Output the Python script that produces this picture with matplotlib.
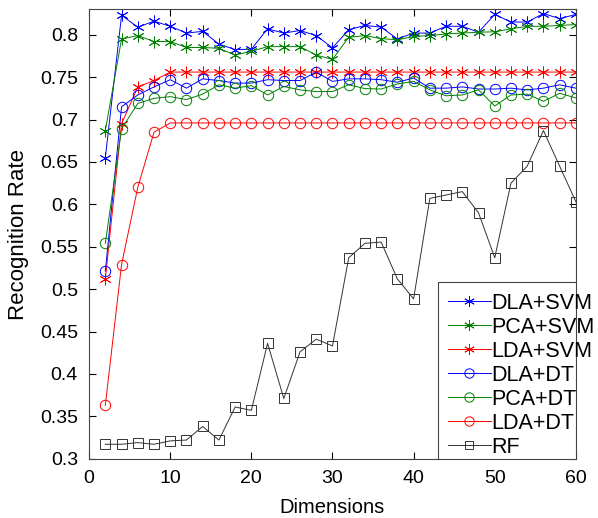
import numpy as np
import matplotlib
matplotlib.use("Agg")
import matplotlib.pyplot as plt
from matplotlib.patches import Rectangle

plt.rcParams['font.family'] = ['Liberation Sans', 'DejaVu Sans']

# dimensions 2, 4, ..., 60
dims = list(range(2, 61, 2))

dla_svm = [0.655, 0.823, 0.809, 0.816, 0.810, 0.802, 0.804, 0.789, 0.7825, 0.783,
           0.807, 0.802, 0.805, 0.799, 0.7845, 0.806, 0.811, 0.809, 0.795, 0.802,
           0.802, 0.810, 0.810, 0.803, 0.824, 0.815, 0.815, 0.825, 0.819, 0.824]
pca_svm = [0.687, 0.795, 0.799, 0.792, 0.792, 0.785, 0.785, 0.784, 0.776, 0.7805,
           0.786, 0.786, 0.786, 0.776, 0.771, 0.797, 0.799, 0.7955, 0.794, 0.798,
           0.799, 0.801, 0.802, 0.803, 0.8035, 0.807, 0.810, 0.810, 0.811, 0.812]
lda_svm = [0.512, 0.695, 0.7385, 0.746] + [0.756] * 26
dla_dt = [0.521, 0.715, 0.729, 0.7385, 0.747, 0.737, 0.748, 0.746, 0.743, 0.743,
          0.747, 0.746, 0.746, 0.756, 0.745, 0.748, 0.748, 0.747, 0.744, 0.749,
          0.737, 0.737, 0.7385, 0.736, 0.736, 0.737, 0.735, 0.737, 0.741, 0.737]
pca_dt = [0.554, 0.689, 0.719, 0.725, 0.727, 0.7235, 0.730, 0.741, 0.737, 0.740,
          0.729, 0.739, 0.735, 0.733, 0.733, 0.741, 0.7365, 0.736, 0.742, 0.745,
          0.735, 0.728, 0.729, 0.735, 0.716, 0.729, 0.730, 0.7215, 0.731, 0.7255]
lda_dt = [0.363, 0.529, 0.620, 0.685] + [0.696] * 26
rf = [0.317, 0.317, 0.319, 0.317, 0.321, 0.322, 0.338, 0.322, 0.361, 0.357,
      0.436, 0.371, 0.426, 0.441, 0.433, 0.537, 0.554, 0.5555, 0.512, 0.4885,
      0.607, 0.611, 0.615, 0.590, 0.537, 0.625, 0.645, 0.687, 0.645, 0.603]

series = [
    ("DLA+SVM", dla_svm, "#0000ff", "*"),
    ("PCA+SVM", pca_svm, "#008000", "*"),
    ("LDA+SVM", lda_svm, "#ff0000", "*"),
    ("DLA+DT", dla_dt, "#0000ff", "o"),
    ("PCA+DT", pca_dt, "#008000", "o"),
    ("LDA+DT", lda_dt, "#ff0000", "o"),
    ("RF", rf, "#333333", "s"),
]

fig = plt.figure(figsize=(5.98, 5.18), dpi=100)
ax = fig.add_axes([0.149, 0.1145, 0.814, 0.8675])

for name, vals, col, mk in series:
    if mk == "*":
        ax.plot(dims, vals, color=col, lw=0.7, marker=(6, 2, 0), markersize=8.5,
                markeredgewidth=0.6, label=name)
    else:
        ax.plot(dims, vals, color=col, lw=0.7, marker=mk, markersize=7.5 if mk == "o" else 6.8,
                markerfacecolor="none", markeredgewidth=0.7, label=name)

ax.set_xlim(0, 60)
ax.set_ylim(0.3, 0.83)
ax.set_xticks(range(0, 61, 10))
ax.set_yticks(np.arange(0.3, 0.81, 0.05))
ax.set_yticklabels(["0.3", "0.35", "0.4", "0.45", "0.5", "0.55", "0.6", "0.65", "0.7", "0.75", "0.8"])
ax.tick_params(direction="in", top=True, right=True, length=5, labelsize=14, width=0.8, pad=8)
for sp in ax.spines.values():
    sp.set_color("#444444")
    sp.set_linewidth(0.8)

ax.set_xlabel("Dimensions", fontsize=14.5, labelpad=8)
ax.set_ylabel("Recognition Rate", fontsize=16, labelpad=8)

leg = ax.legend(loc="lower left", bbox_to_anchor=(0.735, 0.0), fontsize=15.5,
                frameon=False, handlelength=2.0, handletextpad=0.0,
                labelspacing=0.14, borderpad=0.05, borderaxespad=0.0, markerscale=0.9)
ax.add_patch(Rectangle((0.7166, 0.0), 0.2834, 0.393, transform=ax.transAxes,
                       facecolor="white", edgecolor="#444444", lw=0.8, zorder=4))
leg.set_zorder(5)

fig.savefig("out.png", dpi=100)
